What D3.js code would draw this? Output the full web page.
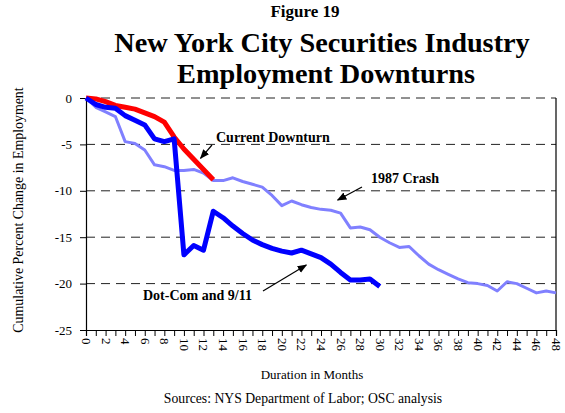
<html>
    <head>
        <meta charset="utf-8">
        <title>Figure 19</title>
        <style>
            body { margin: 0; background: #fff; }
            text { font-family: "Liberation Serif", "Times New Roman", serif; }
        </style>
    </head>

    <body>
        <script src="https://d3js.org/d3.v7.min.js"></script>
        <script>
            // months since peak
            var months = d3.range(0, 49);
            var yTicks = [0, -5, -10, -15, -20, -25];

            // cumulative percent change
            var currentDownturn = [0, -0.1, -0.4, -0.8, -1.0, -1.2, -1.6, -2.0, -2.6, -4.2, -5.5, -6.6, -7.7, -8.8];
            var dotCom = [0, -0.7, -1.0, -1.1, -1.9, -2.4, -2.9, -4.4, -4.7, -4.4,
                -16.9, -15.9, -16.4, -12.2, -12.9, -13.8, -14.6, -15.3, -15.8, -16.2,
                -16.5, -16.7, -16.4, -16.8, -17.2, -17.9, -18.8, -19.6, -19.6, -19.5, -20.3];
            var crash1987 = [0, -1.0, -1.5, -2.0, -4.7, -4.9, -5.6, -7.2, -7.4, -7.8,
                -7.8, -7.7, -8.1, -8.9, -8.9, -8.6, -9.0, -9.3, -9.6, -10.5,
                -11.6, -11.1, -11.5, -11.8, -12.0, -12.1, -12.4, -14.0, -13.9, -14.2,
                -15.0, -15.6, -16.1, -16.0, -17.0, -17.9, -18.5, -19.0, -19.5, -19.9,
                -20.0, -20.2, -20.8, -19.8, -20.0, -20.5, -21.0, -20.8, -21.0];

            var svg = d3.select('body')
            .append('svg')
            .attr('width', 565)
            .attr('height', 413);

            var plotLeft = 86, plotRight = 556, plotTop = 98, plotBottom = 330;

            var x = d3.scaleLinear().domain([0, 48]).range([plotLeft, plotRight]);
            var y = d3.scaleLinear().domain([-25, 0]).range([plotBottom, plotTop]);

            // titles
            svg.append('text')
            .attr('x', 305).attr('y', 17)
            .attr('text-anchor', 'middle')
            .style('font-size', '17px').style('font-weight', 'bold')
            .text('Figure 19');

            svg.append('text')
            .attr('x', 322).attr('y', 52)
            .attr('text-anchor', 'middle')
            .style('font-size', '28.3px').style('font-weight', 'bold')
            .text('New York City Securities Industry');

            svg.append('text')
            .attr('x', 326).attr('y', 83)
            .attr('text-anchor', 'middle')
            .style('font-size', '28.3px').style('font-weight', 'bold')
            .text('Employment Downturns');

            // dashed gridlines
            svg.selectAll('line.grid')
            .data(yTicks.slice(0, 5))
            .enter()
            .append('line')
            .attr('class', 'grid')
            .attr('x1', plotLeft).attr('x2', plotRight)
            .attr('y1', function(d) { return y(d); })
            .attr('y2', function(d) { return y(d); })
            .style('stroke', '#222')
            .style('stroke-width', 1)
            .style('stroke-dasharray', '9,6');

            // y axis
            var yAxis = svg.append('g')
            .attr('transform', 'translate(' + plotLeft + ',0)')
            .call(d3.axisLeft(y).tickValues(yTicks).tickSize(6).tickPadding(8)
                .tickFormat(function(d) { return String(d); }));

            // x axis
            var xAxis = svg.append('g')
            .attr('transform', 'translate(0,' + plotBottom + ')')
            .call(d3.axisBottom(x).tickValues(months).tickSize(6).tickFormat(function(d) {
                return d % 2 === 0 ? String(d) : '';
            }));

            xAxis.selectAll('text')
            .attr('transform', 'rotate(90)')
            .attr('x', 8)
            .attr('y', 0)
            .attr('dy', '0.35em')
            .style('text-anchor', 'start');

            [xAxis, yAxis].forEach(function(g) {
                g.select('.domain').style('stroke', '#000').style('stroke-width', 1.2);
                g.selectAll('.tick line').style('stroke', '#000');
                g.selectAll('text')
                .style('font-family', '"Liberation Serif", serif')
                .style('font-size', '13px')
                .style('fill', '#000');
            });

            // right border
            svg.append('line')
            .attr('x1', plotRight).attr('x2', plotRight)
            .attr('y1', plotTop).attr('y2', plotBottom)
            .style('stroke', '#000')
            .style('stroke-width', 1.2);

            // axis titles
            svg.append('text')
            .attr('transform', 'translate(23,210) rotate(-90)')
            .attr('text-anchor', 'middle')
            .style('font-size', '13.9px')
            .text('Cumulative Percent Change in Employment');

            svg.append('text')
            .attr('x', 312).attr('y', 379)
            .attr('text-anchor', 'middle')
            .style('font-size', '13px')
            .text('Duration in Months');

            svg.append('text')
            .attr('x', 303).attr('y', 403)
            .attr('text-anchor', 'middle')
            .style('font-size', '13.7px')
            .text('Sources: NYS Department of Labor; OSC analysis');

            // series lines
            var line = d3.line()
            .x(function(d, i) { return x(i); })
            .y(function(d) { return y(d); });

            var series = [
                { values: crash1987, color: '#8080ff', width: 3 },
                { values: currentDownturn, color: '#ff0000', width: 5 },
                { values: dotCom, color: '#0000ff', width: 5 }
            ];

            svg.selectAll('path.series')
            .data(series)
            .enter()
            .append('path')
            .attr('class', 'series')
            .attr('d', function(d) { return line(d.values); })
            .style('fill', 'none')
            .style('stroke', function(d) { return d.color; })
            .style('stroke-width', function(d) { return d.width; })
            .style('stroke-linejoin', 'round');

            // annotations
            svg.append('defs').append('marker')
            .attr('id', 'arrow')
            .attr('viewBox', '0 0 10 10')
            .attr('refX', 9).attr('refY', 5)
            .attr('markerWidth', 8).attr('markerHeight', 8)
            .attr('orient', 'auto')
            .append('path')
            .attr('d', 'M0,1 L10,5 L0,9 z')
            .style('fill', '#000');

            var notes = [
                { label: 'Current Downturn', tx: 216, ty: 142, month: 11.7, value: -6.5, from: [212, 145] },
                { label: '1987 Crash', tx: 371, ty: 183, month: 25.7, value: -11, from: [362, 187] },
                { label: 'Dot-Com and 9/11', tx: 143, ty: 300, month: 22.5, value: -18.0, from: [263, 291] }
            ];

            svg.selectAll('line.note')
            .data(notes)
            .enter()
            .append('line')
            .attr('class', 'note')
            .attr('x1', function(d) { return d.from[0]; })
            .attr('y1', function(d) { return d.from[1]; })
            .attr('x2', function(d) { return x(d.month); })
            .attr('y2', function(d) { return y(d.value); })
            .style('stroke', '#000')
            .style('stroke-width', 1.2)
            .attr('marker-end', 'url(#arrow)');

            svg.selectAll('text.note')
            .data(notes)
            .enter()
            .append('text')
            .attr('class', 'note')
            .attr('x', function(d) { return d.tx; })
            .attr('y', function(d) { return d.ty; })
            .style('font-size', '14px')
            .style('font-weight', 'bold')
            .text(function(d) { return d.label; });
        </script>
    </body>
</html>
